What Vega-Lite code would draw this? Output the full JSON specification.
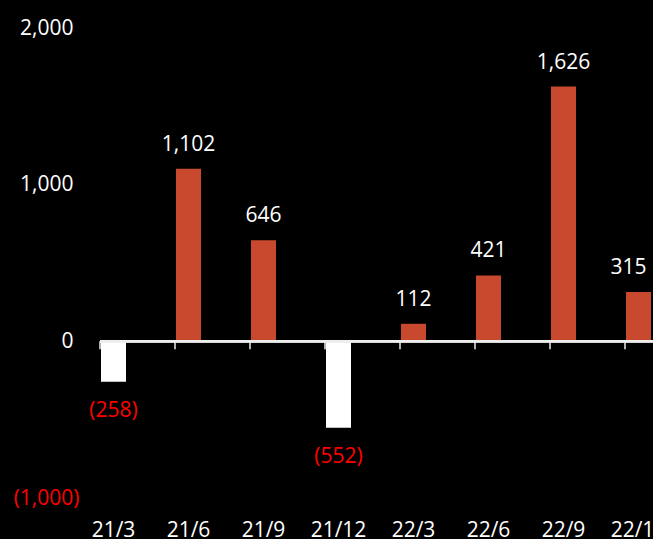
{
  "$schema": "https://vega.github.io/schema/vega-lite/v6.json",
  "autosize": "none",
  "padding": {"left": 100, "top": 28, "right": 0, "bottom": 41},
  "width": 600,
  "height": 470,
  "background": "black",
  "config": {"view": {"stroke": null}, "font": "Open Sans"},
  "data": {
    "values": [
      {"q": "21/3", "v": -258},
      {"q": "21/6", "v": 1102},
      {"q": "21/9", "v": 646},
      {"q": "21/12", "v": -552},
      {"q": "22/3", "v": 112},
      {"q": "22/6", "v": 421},
      {"q": "22/9", "v": 1626},
      {"q": "22/12", "v": 315}
    ]
  },
  "layer": [
    {
      "mark": {"type": "bar", "width": 25, "xOffset": -24},
      "encoding": {
        "x": {
          "field": "q", "type": "nominal", "sort": null, "title": null,
          "scale": {"paddingInner": 0, "paddingOuter": 0},
          "axis": {
            "orient": "bottom", "domain": false, "ticks": false, "tickSize": 0,
            "labelAngle": 0, "labelPadding": 21, "labelOffset": -24,
            "labelColor": "white", "labelFontSize": 21, "labelFont": "Open Sans"
          }
        },
        "y": {
          "field": "v", "type": "quantitative", "title": null,
          "scale": {"domain": [-1000, 2000], "nice": false, "zero": true},
          "axis": {
            "values": [-1000, 0, 1000, 2000], "format": "(,.0f",
            "grid": false, "domain": false, "ticks": false, "tickSize": 0,
            "labelPadding": {"condition": {"test": "datum.value < 0", "value": 21}, "value": 27},
            "labelColor": {"condition": {"test": "datum.value < 0", "value": "#FF0000"}, "value": "white"},
            "labelFontSize": 21, "labelFont": "Open Sans"
          }
        },
        "color": {"condition": {"test": "datum.v < 0", "value": "white"}, "value": "#C9492F"}
      }
    },
    {
      "mark": {"type": "rule", "color": "#EEEEEE", "strokeWidth": 2},
      "encoding": {"y": {"datum": 0}}
    },
    {
      "mark": {"type": "rule", "color": "#EEEEEE", "strokeWidth": 1.5},
      "encoding": {
        "x": {"field": "q", "type": "nominal", "sort": null, "title": null, "bandPosition": 0},
        "y": {"datum": 0},
        "y2": {"datum": -50}
      }
    },
    {
      "transform": [{"filter": "datum.v >= 0 && datum.q != '22/12'"}],
      "mark": {"type": "text", "xOffset": -24, "dy": -18, "baseline": "alphabetic", "fontSize": 21, "font": "Open Sans", "color": "white"},
      "encoding": {
        "x": {"field": "q", "type": "nominal", "sort": null, "title": null},
        "y": {"field": "v", "type": "quantitative", "title": null},
        "text": {"field": "v", "type": "quantitative", "format": "(,"}
      }
    },
    {
      "transform": [{"filter": "datum.q == '22/12'"}],
      "mark": {"type": "text", "xOffset": -34, "dy": -18, "baseline": "alphabetic", "fontSize": 21, "font": "Open Sans", "color": "white"},
      "encoding": {
        "x": {"field": "q", "type": "nominal", "sort": null, "title": null},
        "y": {"field": "v", "type": "quantitative", "title": null},
        "text": {"field": "v", "type": "quantitative", "format": "(,"}
      }
    },
    {
      "transform": [{"filter": "datum.v < 0"}],
      "mark": {"type": "text", "xOffset": -24, "dy": 35, "baseline": "alphabetic", "fontSize": 21, "font": "Open Sans", "color": "#FF0000"},
      "encoding": {
        "x": {"field": "q", "type": "nominal", "sort": null, "title": null},
        "y": {"field": "v", "type": "quantitative", "title": null},
        "text": {"field": "v", "type": "quantitative", "format": "(,"}
      }
    }
  ]
}
